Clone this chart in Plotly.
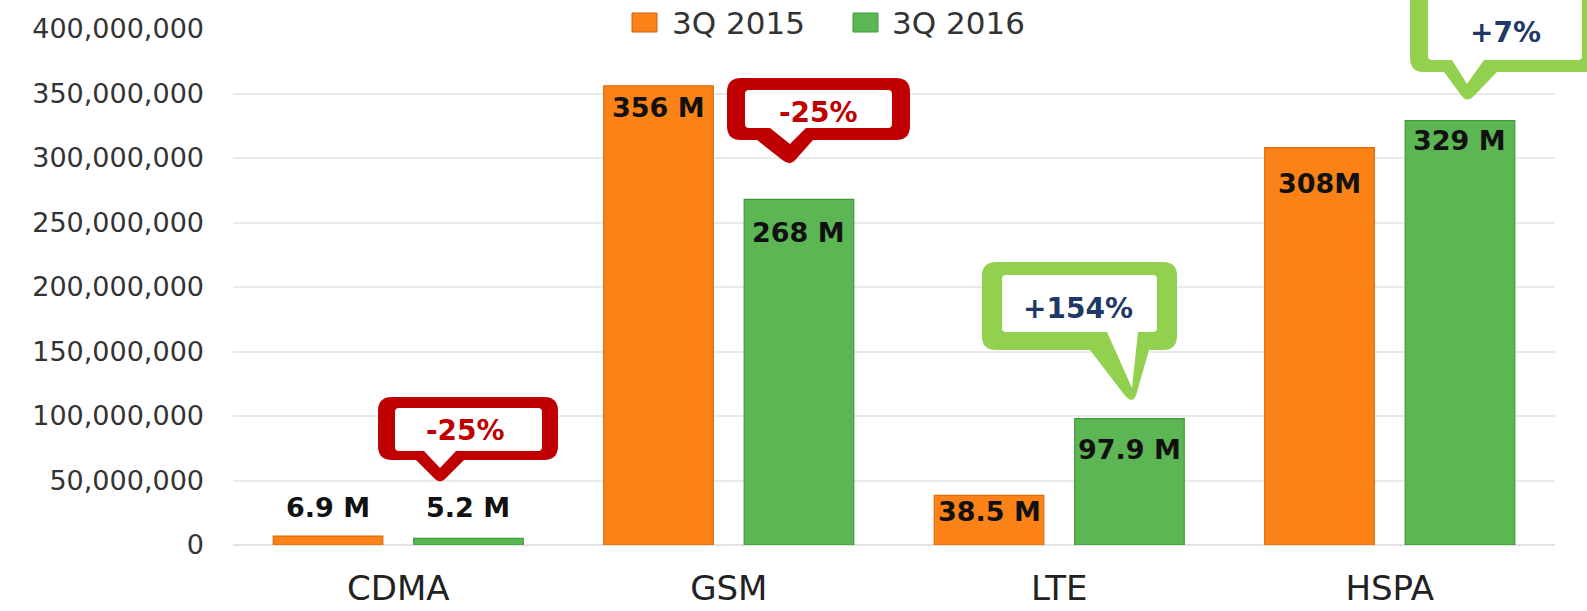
import plotly.graph_objects as go

# ---------------- data ----------------
categories = ["CDMA", "GSM", "LTE", "HSPA"]
series_names = ["3Q 2015", "3Q 2016"]
values_2015 = [6.9e6, 356e6, 38.5e6, 308e6]
values_2016 = [5.2e6, 268e6, 97.9e6, 329e6]
labels_2015 = ["6.9 M", "356 M", "38.5 M", "308M"]
labels_2016 = ["5.2 M", "268 M", "97.9 M", "329 M"]
y_ticks = [0, 50e6, 100e6, 150e6, 200e6, 250e6, 300e6, 350e6, 400e6]

# ---------------- style ----------------
W, H = 1587, 611
ML, MR, MT, MB = 233, 32, 29, 66
PW, PH = W - ML - MR, H - MT - MB
ORANGE = "#FA8216"
GREEN = "#5CB653"
RED = "#C00000"
LGREEN = "#92D050"
NAVY = "#1F3864"
# vertical offset (px) of each label centre below bar top (negative = above)
off_2015 = [-29, 22, 16, 36]
off_2016 = [-31, 33, 31, 20]


def X(px):
    return (px - ML) / PW


def Y(py):
    return (MT + PH - py) / PH


fig = go.Figure()
fig.add_trace(go.Bar(x=categories, y=values_2015, name=series_names[0],
                     marker=dict(color=ORANGE, line=dict(color="#E06A08", width=1.2)),
                     showlegend=False, hoverinfo="x+y"))
fig.add_trace(go.Bar(x=categories, y=values_2016, name=series_names[1],
                     marker=dict(color=GREEN, line=dict(color="#3E9A3A", width=1.2)),
                     showlegend=False, hoverinfo="x+y"))

annotations = []
shift = PW / len(categories) * (1 - 0.15) / 4
for i, c in enumerate(categories):
    for vals, labs, offs, xs in ((values_2015, labels_2015, off_2015, -shift),
                                 (values_2016, labels_2016, off_2016, shift)):
        annotations.append(dict(x=c, y=vals[i], xref="x", yref="y", text=labs[i],
                                showarrow=False, xshift=xs, yshift=-offs[i],
                                yanchor="middle", xanchor="center",
                                font=dict(family="DejaVu Sans", size=27, color="#111111",
                                          weight="bold")))


def rr_points(L, T, R, B, r):
    return [(L + r, T), (R - r, T), ("Q", (R, T), (R, T + r)), (R, B - r),
            ("Q", (R, B), (R - r, B))], [(L + r, B), ("Q", (L, B), (L, B - r)),
                                          (L, T + r), ("Q", (L, T), (L + r, T))]


def build_path(items):
    s = []
    first = True
    for it in items:
        if isinstance(it, tuple) and it and it[0] == "Q":
            (cx, cy), (ex, ey) = it[1], it[2]
            s.append(f"Q{X(cx):.5f},{Y(cy):.5f} {X(ex):.5f},{Y(ey):.5f}")
        else:
            px, py = it
            s.append(("M" if first else "L") + f"{X(px):.5f},{Y(py):.5f}")
        first = False
    return " ".join(s) + " Z"


def bubble(color, outer, inner, tail, itail, r=14):
    L, T, R, B = outer
    a, b, tx, ty = tail
    f = 0.22
    first, second = rr_points(L, T, R, B, r)
    p_r = (tx + (b - tx) * f, ty + (B - ty) * f)
    p_l = (tx + (a - tx) * f, ty + (B - ty) * f)
    items = first + [(b, B), p_r, ("Q", (tx, ty), p_l), (a, B)] + second
    shp = [dict(type="path", xref="paper", yref="paper", path=build_path(items),
                fillcolor=color, line=dict(width=0), layer="above")]
    iL, iT, iR, iB = inner
    c, d, itx, ity = itail
    ri = 4
    f1, s1 = rr_points(iL, iT, iR, iB, ri)
    items2 = f1 + [(d, iB), (itx, ity), (c, iB)] + s1
    shp.append(dict(type="path", xref="paper", yref="paper", path=build_path(items2),
                    fillcolor="white", line=dict(width=0), layer="above"))
    return shp


shapes = []
shapes += bubble(RED, (378, 397, 558, 460), (395, 408, 542, 451),
                 (416, 464, 440, 484), (424, 456, 440, 468))
shapes += bubble(RED, (727, 78, 910, 140), (745, 90, 892, 128),
                 (757, 813, 790, 166), (770, 806, 790, 144))
shapes += bubble(LGREEN, (982, 262, 1177, 350), (1002, 275, 1157, 332),
                 (1090, 1149, 1133, 406), (1107, 1138, 1132, 388))
shapes += bubble(LGREEN, (1410, -20, 1605, 72), (1428, -10, 1582, 60),
                 (1444, 1497, 1467, 103), (1452, 1484, 1467, 84))


def pct(a, b):
    p = round((b - a) / a * 100)
    return f"{'+' if p > 0 else ''}{p}%"


bubble_text = [(465, 430, RED), (818, 113, RED), (1078, 308, NAVY), (1505, 32, NAVY)]
for i, (px, py, col) in enumerate(bubble_text):
    annotations.append(dict(x=X(px), y=Y(py), xref="paper", yref="paper",
                            text=pct(values_2015[i], values_2016[i]), showarrow=False,
                            xanchor="center", yanchor="middle",
                            font=dict(family="DejaVu Sans", size=28, color=col, weight="bold")))

# manual legend
for (x0, x1, tx), col, name in (((632, 657, 670), ORANGE, series_names[0]),
                                ((853, 878, 890), GREEN, series_names[1])):
    shapes.append(dict(type="rect", xref="paper", yref="paper", x0=X(x0), x1=X(x1),
                       y0=Y(32), y1=Y(13), fillcolor=col,
                       line=dict(width=1, color="#D06010" if col == ORANGE else "#3E9A3A"),
                       layer="above"))
    annotations.append(dict(x=X(tx), y=Y(23), xref="paper", yref="paper", text=name,
                            showarrow=False, xanchor="left", yanchor="middle",
                            font=dict(family="DejaVu Sans", size=31, color="#333333")))

fig.update_layout(
    width=W, height=H, autosize=False,
    margin=dict(l=ML, r=MR, t=MT, b=MB, pad=0),
    plot_bgcolor="white", paper_bgcolor="white",
    barmode="group", bargap=0.15, bargroupgap=0.22,
    showlegend=False,
    annotations=annotations, shapes=shapes,
    xaxis=dict(type="category", showgrid=False, showline=False, ticks="",
               automargin=False,
               tickfont=dict(family="DejaVu Sans", size=34, color="#222222"),
               ticklabelstandoff=20),
    yaxis=dict(range=[0, 400e6], tickvals=y_ticks, tickformat=",",
               automargin=False,
               showgrid=True, gridcolor="#EAEAEA", gridwidth=1.6,
               zeroline=True, zerolinecolor="#E2E2E2", zerolinewidth=1.6,
               showline=False, ticks="",
               tickfont=dict(family="DejaVu Sans", size=27, color="#333333"),
               ticklabelstandoff=28),
)

fig.write_html(
    "out.html",
    config={"displayModeBar": False},
    post_script="document.body.style.margin='0px';document.body.style.overflow='hidden';",
)
